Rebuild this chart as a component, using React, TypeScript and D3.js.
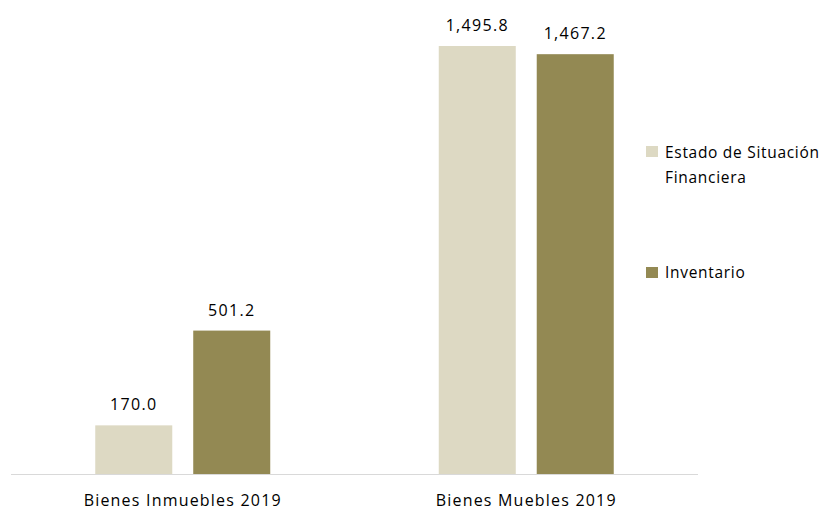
import React from "react";
import * as d3 from "d3";

const categories = ["Bienes Inmuebles 2019", "Bienes Muebles 2019"];
const seriesNames = ["Estado de Situación Financiera", "Inventario"];
const estadoValues = [170.0, 1495.8];
const inventarioValues = [501.2, 1467.2];
const colors = ["#DDD9C3", "#938953"];

const W = 834;
const H = 510;
const FONT = "'Open Sans', 'Noto Sans', sans-serif";

export default function App() {
  const x0 = d3.scaleBand<string>().domain(categories).range([11, 698]).paddingInner(0).paddingOuter(0);
  const x1 = d3.scaleBand<string>().domain(seriesNames).range([0, x0.bandwidth()]).paddingInner(0.214).paddingOuter(0.86);
  const y = d3.scaleLinear().domain([0, 1495.8]).range([474, 46]);
  const fmt = d3.format(",.1f");
  const series = [estadoValues, inventarioValues];

  return (
    <svg width={W} height={H} style={{ position: "absolute", left: 0, top: 0, background: "#fff" }}>
      {categories.map((c, ci) => (
        <g key={c} transform={`translate(${x0(c)},0)`}>
          {seriesNames.map((s, si) => {
            const v = series[si][ci];
            const bx = x1(s)!;
            return (
              <g key={s}>
                <rect x={bx} y={y(v)} width={x1.bandwidth()} height={y(0) - y(v)} fill={colors[si]} />
                <text x={bx + x1.bandwidth() / 2} y={y(v) - 15} textAnchor="middle" fontFamily={FONT} fontSize={16} letterSpacing={1.3} fill="#000">
                  {fmt(v)}
                </text>
              </g>
            );
          })}
          <text x={x0.bandwidth() / 2} y={506} textAnchor="middle" fontFamily={FONT} fontSize={16} letterSpacing={1.2} fill="#000">
            {c}
          </text>
        </g>
      ))}
      <line x1={11} x2={698} y1={474.5} y2={474.5} stroke="#D9D9D9" strokeWidth={1} />
      <g fontFamily={FONT} fontSize={15.5} letterSpacing={0.7} fill="#000">
        <rect x={646} y={146} width={12} height={11} fill={colors[0]} />
        <text x={665} y={158}>Estado de Situación</text>
        <text x={665} y={183}>Financiera</text>
        <rect x={646} y={267} width={12} height={11} fill={colors[1]} />
        <text x={665} y={278}>Inventario</text>
      </g>
    </svg>
  );
}
